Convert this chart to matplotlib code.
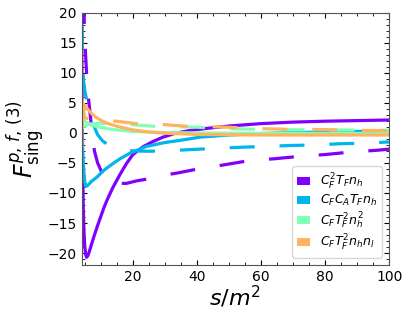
import numpy as np
import matplotlib
matplotlib.use("Agg")
import matplotlib.pyplot as plt
from matplotlib.patches import Patch
from matplotlib.ticker import MultipleLocator

# values, s/m^2 on x
labels = [r'$C_F^2T_Fn_h$', r'$C_FC_AT_Fn_h$', r'$C_FT_F^2n_h^2$', r'$C_FT_F^2n_hn_l$']

# C_F^2 T_F n_h
s_cf2_solid = [4.03, 4.1, 4.2, 4.35, 4.5, 4.75, 5.0, 5.3, 5.56, 6.0, 6.5, 7.0, 8.0, 9.0,
               10.0, 11.0, 12.0, 13.8, 16.0, 18.0, 20.0, 23.2, 26.0, 29.4, 33.0, 37.7,
               43.0, 50.0, 60.0, 70.0, 80.0, 90.0, 100.0]
v_cf2_solid = [25.0, 10.0, 3.0, -5.0, -12.0, -16.5, -19.0, -20.3, -20.7, -20.4, -19.6, -18.7,
               -17.0, -15.4, -13.9, -12.4, -11.1, -9.05, -6.9, -5.1, -3.6, -2.3, -1.5, -0.7,
               -0.1, 0.4, 0.75, 1.15, 1.55, 1.8, 1.95, 2.05, 2.15]
s_cf2_dash = [4.6, 4.75, 4.9, 5.2, 5.5, 5.8, 6.2, 6.6, 7.2, 8.0, 9.0, 10.5, 12.5, 15.0, 18.0,
              21.0, 25.3, 30.0, 33.6, 40.3, 48.6, 56.4, 64.2, 72.0, 80.0, 87.6, 95.9, 100.0]
v_cf2_dash = [30.0, 20.0, 17.0, 13.5, 10.5, 8.0, 5.5, 3.5, 0.5, -3.0, -5.0, -6.8, -7.9, -8.4,
              -8.4, -8.0, -7.6, -7.0, -6.7, -6.0, -5.3, -4.6, -4.3, -3.9, -3.6, -3.2, -2.9, -2.7]

# C_F C_A T_F n_h
s_cfca_solid = [4.0, 4.3, 4.7, 5.0, 5.4, 6.0, 7.0, 8.7, 11.0, 13.8, 16.0, 19.0, 24.2, 30.0,
                34.6, 41.0, 50.0, 60.0, 70.0, 85.0, 100.0]
v_cfca_solid = [1.0, -3.0, -6.5, -8.2, -8.9, -8.7, -8.1, -7.4, -6.2, -5.1, -4.3, -3.4, -2.25,
                -1.6, -1.25, -0.7, -0.35, -0.1, 0.05, 0.2, 0.35]
s_cfca_dash = [4.15, 4.3, 4.6, 5.0, 5.6, 6.2, 7.0, 7.9, 9.0, 10.5, 12.0, 13.8, 16.0, 20.1,
               25.0, 29.4, 37.0, 45.0, 53.0, 61.0, 69.0, 77.0, 84.5, 93.0, 100.0]
v_cfca_dash = [18.0, 13.0, 8.8, 7.0, 5.5, 4.4, 2.6, 1.1, -0.3, -1.3, -1.9, -2.25, -2.6, -3.0,
               -3.05, -3.0, -2.8, -2.6, -2.4, -2.25, -2.1, -2.0, -1.8, -1.7, -1.5]

# C_F T_F^2 n_h^2
s_nh2_solid = [4.0, 5.0, 6.0, 8.0, 10.0, 14.0, 20.0, 30.0, 50.0, 100.0]
v_nh2_solid = [2.3, 1.9, 1.6, 1.15, 0.9, 0.55, 0.25, 0.05, -0.05, -0.1]
s_nh2_dash = [4.0, 5.0, 7.0, 10.0, 14.0, 19.0, 27.0, 40.0, 50.0, 60.0, 75.0, 100.0]
v_nh2_dash = [0.8, 1.2, 1.5, 1.6, 1.55, 1.4, 1.1, 0.95, 0.7, 0.6, 0.5, 0.45]

# C_F T_F^2 n_h n_l
s_nl_solid = [4.0, 4.1, 4.3, 4.6, 5.0, 6.0, 7.0, 8.0, 10.0, 12.0, 15.0, 20.0, 25.0, 30.0,
              40.0, 60.0, 100.0]
v_nl_solid = [-3.0, 0.0, 3.5, 4.8, 4.6, 3.9, 3.3, 2.8, 2.1, 1.6, 1.1, 0.5, 0.15, -0.05,
              -0.25, -0.35, -0.35]
s_nl_dash = [4.0, 5.0, 6.0, 9.0, 13.8, 21.1, 29.4, 36.7, 47.0, 61.0, 69.0, 80.0, 90.0, 100.0]
v_nl_dash = [6.0, 2.5, 2.4, 2.2, 2.0, 1.55, 1.4, 1.1, 1.0, 0.7, 0.6, 0.55, 0.42, 0.37]

curves = [
    (s_cf2_solid, v_cf2_solid, s_cf2_dash, v_cf2_dash),
    (s_cfca_solid, v_cfca_solid, s_cfca_dash, v_cfca_dash),
    (s_nh2_solid, v_nh2_solid, s_nh2_dash, v_nh2_dash),
    (s_nl_solid, v_nl_solid, s_nl_dash, v_nl_dash),
]
colors = plt.cm.rainbow([0.0, 0.25, 0.5, 0.75])

fig = plt.figure(figsize=(4.1, 3.19), dpi=100)
ax = fig.add_axes([0.199, 0.169, 0.7505, 0.791])

for i in range(len(curves)):
    xs, ys, xd, yd = curves[i]
    ax.plot(xs, ys, c=colors[i], lw=2.3)
    ax.plot(xd, yd, c=colors[i], lw=2.3, ls=(0, (7.8, 7.8)))

ax.set_xlim(4, 100)
ax.set_ylim(-22, 20)
ax.xaxis.set_major_locator(MultipleLocator(20))
ax.xaxis.set_minor_locator(MultipleLocator(5))
ax.yaxis.set_major_locator(MultipleLocator(5))
ax.yaxis.set_minor_locator(MultipleLocator(1))
ax.tick_params(which='both', direction='in', top=True, right=True, labelsize=10)
for sp in ax.spines.values():
    sp.set_color('#555555')

ax.set_xlabel(r'$s/m^2$', fontsize=16, labelpad=0)
ax.set_ylabel(r'$F^{p,\,f,\,(3)}_{\rm sing}$', fontsize=17, labelpad=0)

handles = [Patch(facecolor=colors[i], edgecolor='none') for i in range(4)]
ax.legend(handles, labels, loc='lower right', fontsize=9, handlelength=1.0,
          labelspacing=0.15, borderaxespad=0.6)

fig.savefig("out.png", dpi=100)
